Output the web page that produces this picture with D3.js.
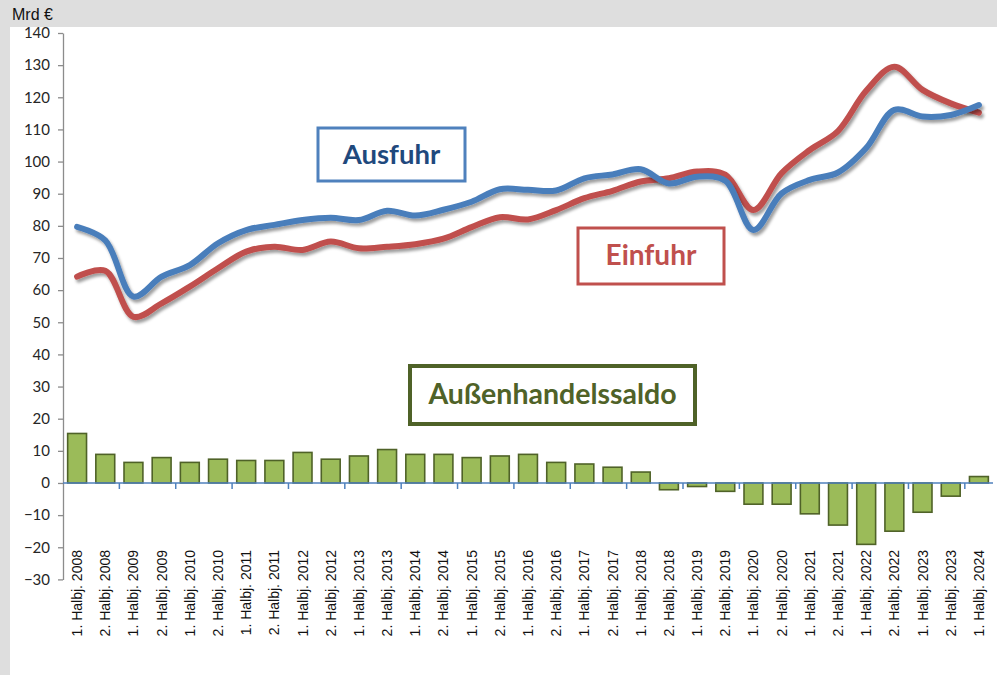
<!DOCTYPE html>
<html>
<head>
<meta charset="utf-8">
<script src="https://cdn.jsdelivr.net/npm/d3@7"></script>
<style>
  body { margin: 0; background: #fff; }
  .tick text { font-family: Lato, "Open Sans", sans-serif; }
</style>
</head>
<body>
<script>
var categories = [
  "1. Halbj. 2008", "2. Halbj. 2008", "1. Halbj. 2009", "2. Halbj. 2009",
  "1. Halbj. 2010", "2. Halbj. 2010", "1. Halbj. 2011", "2. Halbj. 2011",
  "1. Halbj. 2012", "2. Halbj. 2012", "1. Halbj. 2013", "2. Halbj. 2013",
  "1. Halbj. 2014", "2. Halbj. 2014", "1. Halbj. 2015", "2. Halbj. 2015",
  "1. Halbj. 2016", "2. Halbj. 2016", "1. Halbj. 2017", "2. Halbj. 2017",
  "1. Halbj. 2018", "2. Halbj. 2018", "1. Halbj. 2019", "2. Halbj. 2019",
  "1. Halbj. 2020", "2. Halbj. 2020", "1. Halbj. 2021", "2. Halbj. 2021",
  "1. Halbj. 2022", "2. Halbj. 2022", "1. Halbj. 2023", "2. Halbj. 2023",
  "1. Halbj. 2024"
];

var ausfuhr = [79.7, 75.5, 58.0, 64.2, 67.8, 74.6, 78.7, 80.3, 81.8, 82.5, 81.8, 84.7,
  83.2, 85.0, 87.5, 91.4, 91.2, 91.0, 94.8, 96.0, 97.6, 93.2, 95.3, 94.0,
  78.7, 90.1, 94.3, 96.6, 104.2, 116.1, 114.0, 114.5, 117.6];

var einfuhr = [64.2, 66.0, 51.7, 55.9, 61.1, 66.8, 72.0, 73.5, 72.5, 75.1, 73.0, 73.5,
  74.3, 76.0, 79.6, 82.7, 82.0, 84.9, 88.6, 90.9, 93.8, 94.8, 96.9, 95.9,
  84.9, 96.4, 103.6, 109.5, 122.0, 129.5, 122.3, 118.1, 115.2];

var saldo = [15.4, 8.9, 6.4, 7.9, 6.4, 7.4, 7.0, 7.0, 9.5, 7.4, 8.4, 10.4,
  8.9, 8.9, 7.9, 8.4, 8.9, 6.4, 5.9, 4.9, 3.4, -2.1, -1.1, -2.6,
  -6.6, -6.6, -9.6, -13.1, -19.1, -15.0, -9.1, -4.1, 2.0];

var yTicks = [-30, -20, -10, 0, 10, 20, 30, 40, 50, 60, 70, 80, 90, 100, 110, 120, 130, 140];

var W = 997, H = 675;

var x = d3.scaleBand().domain(categories).range([63, 993]).paddingInner(0.33).paddingOuter(0.165);
var xc = d3.scaleBand().domain(categories).range([63, 993]);
var y = d3.scaleLinear().domain([-30, 140]).range([579.4, 33]);

var svg = d3.select("body").append("svg")
  .attr("width", W)
  .attr("height", H);

//shadow for the lines
var defs = svg.append("defs");
defs.append("filter")
  .attr("id", "shadow")
  .attr("x", "-10%").attr("y", "-10%")
  .attr("width", "120%").attr("height", "130%")
  .append("feDropShadow")
  .attr("dx", 2).attr("dy", 3)
  .attr("stdDeviation", 1.8)
  .attr("flood-color", "#000")
  .attr("flood-opacity", 0.38);

//gray frame + white plot area
svg.append("rect").attr("width", W).attr("height", H).attr("fill", "#dedede");
svg.append("rect").attr("x", 10).attr("y", 27).attr("width", W - 10).attr("height", H - 27).attr("fill", "#fff");

svg.append("text")
  .attr("x", 12).attr("y", 20)
  .attr("font-family", "'Liberation Sans Narrow', 'Arial Narrow', sans-serif")
  .attr("font-size", 16)
  .attr("fill", "#111")
  .text("Mrd €");

//y axis
var yAxis = svg.append("g")
  .attr("transform", "translate(63,0)")
  .call(d3.axisLeft(y).tickValues(yTicks).tickSize(5).tickPadding(8).tickSizeOuter(0));
yAxis.select(".domain").attr("stroke", "#8c8c8c").attr("stroke-width", 1.3);
yAxis.selectAll(".tick line").attr("stroke", "#8c8c8c").attr("stroke-width", 1.3);
yAxis.selectAll(".tick text").attr("font-size", 15).attr("fill", "#262626");

//bars
svg.selectAll(".bar")
  .data(saldo)
  .enter().append("rect")
  .attr("class", "bar")
  .attr("x", function(d, i) { return x(categories[i]); })
  .attr("width", x.bandwidth())
  .attr("y", function(d) { return y(Math.max(0, d)); })
  .attr("height", function(d) { return Math.abs(y(d) - y(0)); })
  .attr("fill", "#9bbb59")
  .attr("stroke", "#4f6228")
  .attr("stroke-width", 1.6);

//x axis on the zero line, ticks every 2 categories
var boundaries = categories.filter(function(d, i) { return i % 2 == 0 && i > 0; });
var xAxis = svg.append("g")
  .attr("transform", "translate(0," + y(0) + ")");
xAxis.append("line")
  .attr("x1", 63).attr("x2", 993)
  .attr("stroke", "#4f81bd").attr("stroke-width", 1.5);
xAxis.selectAll(".xt")
  .data(boundaries)
  .enter().append("line")
  .attr("class", "xt")
  .attr("x1", function(d) { return xc(d); })
  .attr("x2", function(d) { return xc(d); })
  .attr("y1", 0).attr("y2", 6)
  .attr("stroke", "#4f81bd").attr("stroke-width", 1.5);

//x labels, rotated
svg.selectAll(".xl")
  .data(categories)
  .enter().append("text")
  .attr("class", "xl")
  .attr("transform", function(d) {
    return "translate(" + (xc(d) + xc.bandwidth() / 2 + 5) + ",550) rotate(-90)";
  })
  .attr("text-anchor", "end")
  .attr("font-family", "'Liberation Sans', Arial, sans-serif")
  .attr("font-size", 14)
  .attr("fill", "#111")
  .text(function(d) { return d; });

//lines
var line = d3.line()
  .x(function(d, i) { return xc(categories[i]) + xc.bandwidth() / 2; })
  .y(function(d) { return y(d); })
  .curve(d3.curveCatmullRom.alpha(0.5));

svg.append("path")
  .datum(einfuhr)
  .attr("d", line)
  .attr("fill", "none")
  .attr("stroke", "#c0504d")
  .attr("stroke-width", 6)
  .attr("stroke-linecap", "round")
  .attr("filter", "url(#shadow)");

svg.append("path")
  .datum(ausfuhr)
  .attr("d", line)
  .attr("fill", "none")
  .attr("stroke", "#4a7ebb")
  .attr("stroke-width", 6)
  .attr("stroke-linecap", "round")
  .attr("filter", "url(#shadow)");

//annotation boxes
function labelBox(x0, y0, w, h, stroke, sw, color, size, txt) {
  svg.append("rect")
    .attr("x", x0).attr("y", y0)
    .attr("width", w).attr("height", h)
    .attr("fill", "#fff")
    .attr("stroke", stroke)
    .attr("stroke-width", sw);
  svg.append("text")
    .attr("x", x0 + w / 2).attr("y", y0 + h / 2 + 9)
    .attr("text-anchor", "middle")
    .attr("font-family", "Lato, 'Open Sans', sans-serif")
    .attr("font-weight", "bold")
    .attr("font-size", size)
    .attr("fill", color)
    .text(txt);
}

labelBox(318, 128, 147, 53, "#4f81bd", 3, "#1f497d", 27.5, "Ausfuhr");
labelBox(578, 228, 146, 56, "#c0504d", 3, "#c0504d", 28, "Einfuhr");
labelBox(410, 366, 285, 58, "#4f6228", 4, "#4f6228", 28.5, "Außenhandelssaldo");
</script>
</body>
</html>
